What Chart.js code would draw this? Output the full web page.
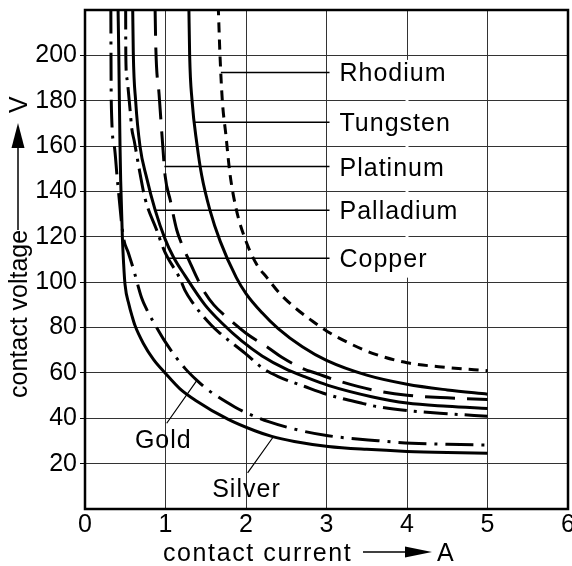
<!DOCTYPE html>
<html>
<head>
<meta charset="utf-8">
<script src="https://cdn.jsdelivr.net/npm/chart.js@4.4.0/dist/chart.umd.min.js"></script>
<style>
  html, body { margin: 0; padding: 0; background: #fff; }
</style>
</head>
<body>
<canvas id="chart" width="572" height="566"></canvas>
<script>
// contact current (A) and contact voltage (V)
var rhodiumI   = [1.655, 1.677, 1.706, 1.75, 1.80, 1.88, 1.99, 2.13, 2.26, 2.42, 2.6, 2.8, 3.0, 3.3, 3.6, 4.0, 4.5, 5.0];
var rhodiumV   = [222, 200, 180, 165, 148, 132, 119, 108, 102, 95, 89, 83.5, 78.5, 72.8, 68.3, 64.5, 62.4, 61];

var tungstenI  = [1.29, 1.30, 1.33, 1.39, 1.45, 1.55, 1.68, 1.88, 2.0, 2.2, 2.4, 2.7, 3.0, 3.5, 4.0, 4.5, 5.0];
var tungstenV  = [222, 200, 180, 161, 147, 132, 118, 102, 95, 86.5, 79.5, 71.5, 65.5, 59, 55, 52.5, 50.6];

var platinumI  = [0.87, 0.88, 0.92, 0.96, 0.995, 1.06, 1.14, 1.2, 1.3, 1.39, 1.47, 1.6, 1.78, 2.0, 2.28, 2.44, 2.7, 2.9, 3.1, 3.56, 4.0, 4.5, 5.0];
var platinumV  = [222, 203, 183, 163, 147, 136, 123, 117, 109, 102, 96.5, 90, 84, 77.5, 71, 67, 62, 59.5, 57, 52.6, 50.2, 49, 48.3];

var palladiumI = [0.592, 0.60, 0.629, 0.683, 0.766, 0.87, 0.995, 1.1, 1.24, 1.49, 1.7, 1.95, 2.2, 2.48, 2.75, 3.02, 3.56, 4.0, 4.5, 5.0];
var palladiumV = [222, 201, 180, 160, 146, 132, 119, 111, 103, 90, 82, 74, 67.5, 62, 58, 54.5, 49.5, 46.7, 45.3, 44.3];

var copperI    = [0.505, 0.507, 0.52, 0.56, 0.58, 0.613, 0.683, 0.745, 0.89, 0.99, 1.18, 1.24, 1.33, 1.57, 1.68, 1.99, 2.21, 2.4, 2.73, 3.02, 3.43, 3.62, 4.0, 4.5, 5.0];
var copperV    = [222, 200, 190, 176, 168, 162, 148, 137, 123, 113.5, 101.5, 96.5, 91.3, 81, 77.4, 68.6, 62, 58.4, 54, 50.4, 46.7, 45.2, 43.4, 42, 40.9];

var goldI      = [0.321, 0.323, 0.326, 0.364, 0.40, 0.476, 0.538, 0.6, 0.704, 0.766, 0.89, 0.973, 1.118, 1.242, 1.387, 1.51, 1.86, 2.0, 2.28, 2.65, 3.02, 3.64, 4.06, 4.5, 5.0];
var goldV      = [222, 200, 180, 160, 146, 120, 113, 106, 93, 88, 80, 75, 67.5, 62, 56.8, 53, 45, 42.5, 38.5, 34.8, 32.3, 30.1, 29, 28.5, 28.2];

var silverI    = [0.41, 0.42, 0.427, 0.435, 0.443, 0.464, 0.48, 0.497, 0.547, 0.585, 0.62, 0.725, 0.85, 0.995, 1.18, 1.37, 1.78, 2.11, 2.32, 2.6, 3.02, 3.5, 4.0, 4.5, 5.0];
var silverV    = [222, 200, 180, 160, 145, 120, 108, 99, 90, 85, 81, 73, 66, 60, 53, 48, 39.5, 34.5, 32, 29.8, 27.6, 26.3, 25.4, 24.9, 24.6];

var currentTicks = [0, 1, 2, 3, 4, 5, 6];
var voltageTicks = [20, 40, 60, 80, 100, 120, 140, 160, 180, 200];

var FONT = '"Liberation Sans", Arial, Helvetica, sans-serif';

function pts(I, V) {
    return I.map(function(c, i) { return {x: c, y: V[i]}; });
}

// where a curve crosses a given voltage
function currentAt(ds, v) {
    var d = ds.data;
    for (var i = 0; i < d.length - 1; i++) {
        var a = d[i], b = d[i + 1];
        if ((a.y - v) * (b.y - v) <= 0 && a.y !== b.y) {
            return a.x + (v - a.y) * (b.x - a.x) / (b.y - a.y);
        }
    }
    return d[0].x;
}
// voltage of a curve at a given current
function voltageAt(ds, c) {
    var d = ds.data;
    for (var i = 0; i < d.length - 1; i++) {
        var a = d[i], b = d[i + 1];
        if ((a.x - c) * (b.x - c) <= 0 && a.x !== b.x) {
            return a.y + (c - a.x) * (b.y - a.y) / (b.x - a.x);
        }
    }
    return d[d.length - 1].y;
}

var rightLabels = ['Rhodium', 'Tungsten', 'Platinum', 'Palladium', 'Copper'];
var rightLabelAt = [192.5, 170.5, 151, 131.7, 110.5];

function byLabel(chart, name) {
    return chart.data.datasets.filter(function(d) { return d.label === name; })[0];
}

function arrowHead(ctx, x0, y0, x1, y1, half) {
    // filled triangle with base at (x0,y0) and tip at (x1,y1)
    var dx = x1 - x0, dy = y1 - y0, len = Math.sqrt(dx * dx + dy * dy);
    var nx = -dy / len * half, ny = dx / len * half;
    ctx.beginPath();
    ctx.moveTo(x0 + nx, y0 + ny);
    ctx.lineTo(x1, y1);
    ctx.lineTo(x0 - nx, y0 - ny);
    ctx.closePath();
    ctx.fill();
}

var annotations = {
    id: 'annotations',
    beforeDatasetsDraw: function(chart) {
        // the x=4 grid line is broken behind the labels
        var ctx = chart.ctx, xs = chart.scales.x, ys = chart.scales.y;
        ctx.save();
        ctx.strokeStyle = '#fff';
        ctx.lineWidth = 3;
        ctx.beginPath();
        ctx.moveTo(xs.getPixelForValue(4), ys.getPixelForValue(198));
        ctx.lineTo(xs.getPixelForValue(4), ys.getPixelForValue(102));
        ctx.stroke();
        ctx.restore();
    },
    afterDatasetsDraw: function(chart) {
        var ctx = chart.ctx, xs = chart.scales.x, ys = chart.scales.y, area = chart.chartArea;
        ctx.save();
        ctx.strokeStyle = '#000';
        ctx.fillStyle = '#000';

        // frame
        ctx.lineWidth = 2.5;
        ctx.strokeRect(area.left, area.top, area.right - area.left, area.bottom - area.top);

        // labels on the right with leader lines
        ctx.font = '25px ' + FONT;
        ctx.letterSpacing = '1px';
        ctx.textBaseline = 'alphabetic';
        ctx.textAlign = 'left';
        ctx.lineWidth = 1.5;
        var xEnd = xs.getPixelForValue(3);
        rightLabels.forEach(function(name, k) {
            var ds = byLabel(chart, name);
            var v = rightLabelAt[k];
            var y = ys.getPixelForValue(v);
            ctx.beginPath();
            ctx.moveTo(xs.getPixelForValue(currentAt(ds, v)), y);
            ctx.lineTo(xEnd + 3, y);
            ctx.stroke();
            ctx.fillText(name, xEnd + 13, y + 9);
        });

        // Gold and Silver
        var gold = byLabel(chart, 'Gold'), silver = byLabel(chart, 'Silver');
        ctx.lineWidth = 1.2;
        ctx.beginPath();
        ctx.moveTo(xs.getPixelForValue(1.015), ys.getPixelForValue(37.8));
        ctx.lineTo(xs.getPixelForValue(1.39), ys.getPixelForValue(voltageAt(gold, 1.39)));
        ctx.moveTo(xs.getPixelForValue(2.02), ys.getPixelForValue(15.9));
        ctx.lineTo(xs.getPixelForValue(2.34), ys.getPixelForValue(voltageAt(silver, 2.34)));
        ctx.stroke();
        ctx.fillText('Gold', xs.getPixelForValue(0.62), ys.getPixelForValue(26.9));
        ctx.fillText('Silver', xs.getPixelForValue(1.58), ys.getPixelForValue(5.3));

        // x axis title with arrow
        var by = area.bottom + 52;
        ctx.letterSpacing = '1.6px';
        ctx.fillText('contact current', 163, by);
        ctx.letterSpacing = '0px';
        ctx.lineWidth = 1.5;
        ctx.beginPath();
        ctx.moveTo(363, by - 9);
        ctx.lineTo(406, by - 9);
        ctx.stroke();
        arrowHead(ctx, 405, by - 9, 432, by - 9, 5.5);
        ctx.fillText('A', 437, by);

        // y axis title with arrow, rotated
        ctx.translate(27, 398);
        ctx.rotate(-Math.PI / 2);
        ctx.fillText('contact voltage', 0, 0);
        ctx.beginPath();
        ctx.moveTo(168, -9);
        ctx.lineTo(251, -9);
        ctx.stroke();
        arrowHead(ctx, 250, -9, 275, -9, 6.5);
        ctx.fillText('V', 285, 0);

        ctx.restore();
    }
};

var tickFont = {family: FONT, size: 25};

var chart = new Chart(document.getElementById('chart'), {
    type: 'scatter',
    data: {
        datasets: [
            {label: 'Rhodium', data: pts(rhodiumI, rhodiumV), borderDash: [10, 7]},
            {label: 'Tungsten', data: pts(tungstenI, tungstenV)},
            {label: 'Platinum', data: pts(platinumI, platinumV), borderDash: [30, 12]},
            {label: 'Palladium', data: pts(palladiumI, palladiumV)},
            {label: 'Copper', data: pts(copperI, copperV), borderDash: [24, 7, 3, 7]},
            {label: 'Gold', data: pts(goldI, goldV), borderDash: [28, 8, 3, 8]},
            {label: 'Silver', data: pts(silverI, silverV)}
        ].map(function(d) {
            d.showLine = true;
            d.borderColor = '#000';
            d.borderWidth = 3;
            d.pointRadius = 0;
            d.cubicInterpolationMode = 'monotone';
            return d;
        })
    },
    options: {
        responsive: false,
        animation: false,
        layout: {padding: {top: 10, right: 4, left: 0, bottom: 0}},
        plugins: {legend: {display: false}, tooltip: {enabled: false}},
        scales: {
            x: {
                type: 'linear', min: 0, max: 6,
                ticks: {
                    stepSize: 1, color: '#000', font: tickFont, padding: 1,
                    callback: function(v) { return currentTicks.indexOf(v) >= 0 ? String(v) : null; }
                },
                grid: {color: '#333', lineWidth: 1, drawTicks: false},
                border: {display: false},
                afterFit: function(s) { s.height = 57; s.paddingLeft = 0; s.paddingRight = 0; }
            },
            y: {
                type: 'linear', min: 0, max: 220,
                ticks: {
                    stepSize: 20, color: '#000', font: tickFont, padding: 3,
                    callback: function(v) { return voltageTicks.indexOf(v) >= 0 ? String(v) : null; }
                },
                grid: {color: '#333', lineWidth: 1, tickLength: 5, tickColor: '#000'},
                border: {display: false},
                afterFit: function(s) { s.width = 85; s.paddingTop = 0; s.paddingBottom = 0; }
            }
        }
    },
    plugins: [annotations]
});
</script>
</body>
</html>
